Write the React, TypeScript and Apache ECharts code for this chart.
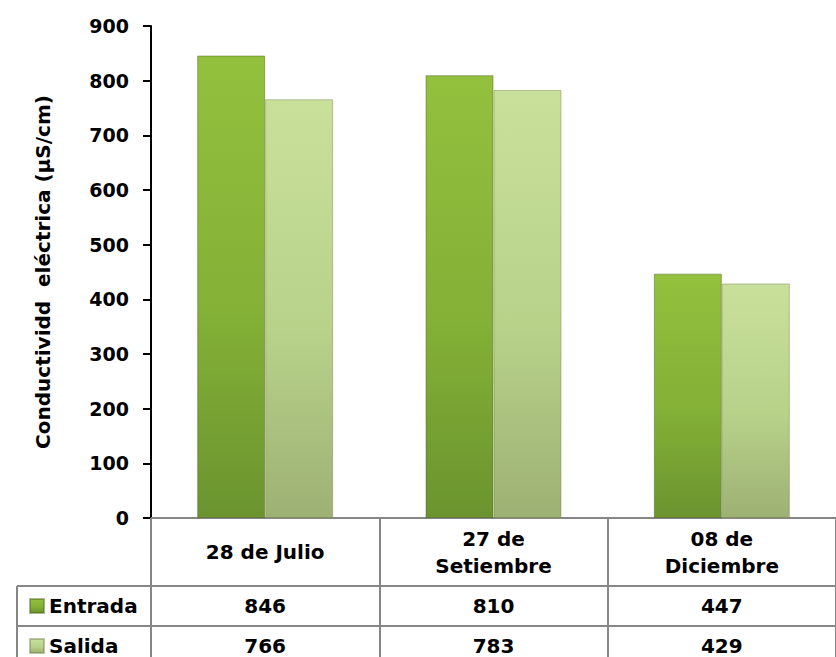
import React, { useEffect, useRef } from "react";
import * as echarts from "echarts";

// Conductividad eléctrica por fecha de muestreo
const categories = ["28 de Julio", "27 de\nSetiembre", "08 de\nDiciembre"];
const entrada = [846, 810, 447];
const salida = [766, 783, 429];
const yTicks = [0, 100, 200, 300, 400, 500, 600, 700, 800, 900];
const seriesNames = ["Entrada", "Salida"];

const FONT = "DejaVu Sans";
const GRAY = "#868686";

const entradaFill = new echarts.graphic.LinearGradient(0, 0, 0, 1, [
  { offset: 0, color: "#93c03d" },
  { offset: 0.55, color: "#84b136" },
  { offset: 1, color: "#6b942f" },
]);
const salidaFill = new echarts.graphic.LinearGradient(0, 0, 0, 1, [
  { offset: 0, color: "#c9e09b" },
  { offset: 0.55, color: "#b8d28a" },
  { offset: 1, color: "#9db174" },
]);

export default function App() {
  const ref = useRef<HTMLDivElement>(null);

  useEffect(() => {
    if (!ref.current) return;
    const chart = echarts.init(ref.current, undefined, { renderer: "svg" });

    const textBase = { fontFamily: FONT, fontWeight: "bold" as const, color: "#000" };

    // value rows of the data table under the plot, laid out by category
    const tableAxis = (values: number[], margin: number) => ({
      type: "category" as const,
      data: categories,
      gridIndex: 0,
      position: "bottom" as const,
      axisLine: { show: false },
      axisTick: { show: false },
      splitLine: { show: false },
      axisLabel: {
        ...textBase,
        fontSize: 20,
        margin,
        verticalAlign: "middle" as const,
        interval: 0,
        formatter: (_v: string, i: number) => String(values[i]),
      },
    });

    // one legend per table row, acting as row headers
    const rowLegend = (name: string, top: number) => ({
      data: [name],
      orient: "vertical" as const,
      left: 29,
      top,
      padding: 0,
      itemWidth: 14,
      itemHeight: 14,
      icon: "rect",
      selectedMode: false,
      textStyle: { ...textBase, fontSize: 20, lineHeight: 20 },
    });

    chart.setOption({
      animation: false,
      backgroundColor: "#fff",
      textStyle: { fontFamily: FONT },
      grid: { left: 151, top: 26, width: 698, height: 492 },
      legend: [rowLegend(seriesNames[0], 596), rowLegend(seriesNames[1], 636)],
      xAxis: [
        {
          type: "category",
          data: categories,
          axisLine: { lineStyle: { color: GRAY, width: 2 } },
          axisTick: {
            show: true,
            length: 150,
            interval: 0,
            lineStyle: { color: GRAY, width: 2 },
          },
          axisLabel: {
            ...textBase,
            fontSize: 20,
            lineHeight: 27,
            margin: 34,
            verticalAlign: "middle",
            interval: 0,
          },
        },
        tableAxis(entrada, 88),
        tableAxis(salida, 128),
      ],
      yAxis: {
        type: "value",
        min: 0,
        max: 900,
        interval: 100,
        name: "Conductividd  eléctrica (µS/cm)",
        nameLocation: "middle",
        nameGap: 98,
        nameTextStyle: { ...textBase, fontSize: 20 },
        axisLine: { show: true, lineStyle: { color: "#000", width: 2 } },
        axisTick: { show: true, length: 8, lineStyle: { color: "#000", width: 2 } },
        splitLine: { show: false },
        axisLabel: {
          ...textBase,
          fontSize: 19,
          margin: 22,
          formatter: (v: number) => (yTicks.includes(v) ? String(v) : ""),
        },
      },
      series: [
        {
          name: seriesNames[0],
          type: "bar",
          data: entrada,
          barWidth: 68,
          barGap: "0%",
          itemStyle: {
            color: entradaFill,
            borderColor: "rgba(70,95,25,0.45)",
            borderWidth: 1,
          },
        },
        {
          name: seriesNames[1],
          type: "bar",
          data: salida,
          barWidth: 68,
          barGap: "0%",
          itemStyle: {
            color: salidaFill,
            borderColor: "rgba(110,130,70,0.45)",
            borderWidth: 1,
          },
        },
      ],
      graphic: [
        // data table grid lines
        { type: "line", shape: { x1: 17, y1: 586, x2: 836, y2: 586 }, style: { stroke: GRAY, lineWidth: 2 } },
        { type: "line", shape: { x1: 17, y1: 626, x2: 836, y2: 626 }, style: { stroke: GRAY, lineWidth: 2 } },
        { type: "line", shape: { x1: 17, y1: 586, x2: 17, y2: 657 }, style: { stroke: GRAY, lineWidth: 2 } },
      ],
    });

    return () => chart.dispose();
  }, []);

  return (
    <div
      ref={ref}
      style={{ position: "fixed", left: 0, top: 0, width: 836, height: 657 }}
    />
  );
}
